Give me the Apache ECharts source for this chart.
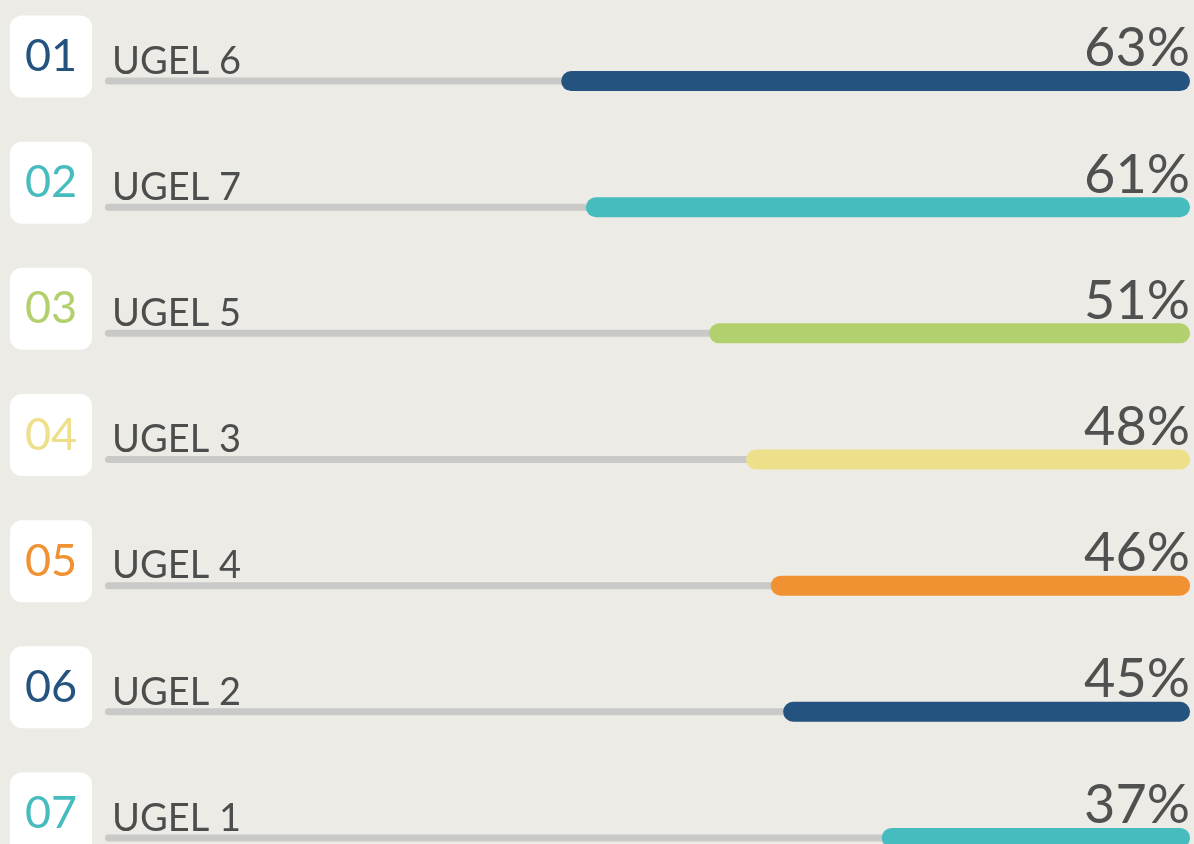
<!DOCTYPE html>
<html lang="es">
<head>
  <meta charset="utf-8">
</head>
<body style="margin: 0; overflow: hidden; background: #edebe5">
  <!-- la ultima fila queda cortada abajo, como en la imagen -->
  <div id="container" style="width: 1194px; height: 901px"></div>

  <script type="text/javascript" src="https://cdn.jsdelivr.net/npm/echarts@6/dist/echarts.min.js"></script>

  <script type="text/javascript">
    var dom = document.getElementById('container');
    var myChart = echarts.init(dom, null, { renderer: 'canvas' });

    // datos
    var ranks = ['01', '02', '03', '04', '05', '06', '07'];
    var names = ['UGEL 6', 'UGEL 7', 'UGEL 5', 'UGEL 3', 'UGEL 4', 'UGEL 2', 'UGEL 1'];
    var values = [63, 61, 51, 48, 46, 45, 37];
    var full = [100, 100, 100, 100, 100, 100, 100];
    var colors = ['#24537f', '#46bcbf', '#b3d06e', '#eedf8b', '#f09232', '#24537f', '#46bcbf'];

    var font = 'Lato, "Open Sans", sans-serif';

    var rich = {
      name: {
        fontSize: 38,
        fontFamily: font,
        color: '#4d4d4d',
        padding: [10, 0, 0, 20]
      }
    };
    colors.forEach(function (c, i) {
      rich['n' + i] = {
        width: 82,
        height: 82,
        align: 'center',
        backgroundColor: '#ffffff',
        borderRadius: 12,
        fontSize: 45,
        fontFamily: font,
        color: c
      };
    });

    var option = {
      backgroundColor: '#edebe5',
      animation: false,
      grid: { left: 105, right: 4, top: 18, bottom: 0 },
      xAxis: {
        type: 'value',
        inverse: true,
        min: 12,
        max: 100,
        startValue: 12,
        show: false
      },
      yAxis: [
        { type: 'category', data: names, inverse: true, show: false },
        { type: 'category', data: names, inverse: true, show: false }
      ],
      series: [
        {
          type: 'bar',
          yAxisIndex: 1,
          data: full,
          barWidth: 7,
          silent: true,
          itemStyle: { color: '#c9c9c7', borderRadius: 3.5 },
          label: {
            show: true,
            position: [-95, -21],
            align: 'left',
            verticalAlign: 'middle',
            formatter: function (p) {
              return '{n' + p.dataIndex + '|' + ranks[p.dataIndex] + '}{name|' + names[p.dataIndex] + '}';
            },
            rich: rich
          }
        },
        {
          type: 'bar',
          yAxisIndex: 0,
          data: values.map(function (v, i) {
            return { value: v, itemStyle: { color: colors[i] } };
          }),
          barWidth: 20,
          itemStyle: { borderRadius: 10 },
          label: {
            show: true,
            position: ['100%', 5],
            align: 'right',
            verticalAlign: 'bottom',
            fontSize: 54,
            fontFamily: font,
            color: '#505050',
            formatter: '{c}%'
          }
        }
      ]
    };

    myChart.setOption(option);
    window.addEventListener('resize', myChart.resize);
  </script>
</body>
</html>
